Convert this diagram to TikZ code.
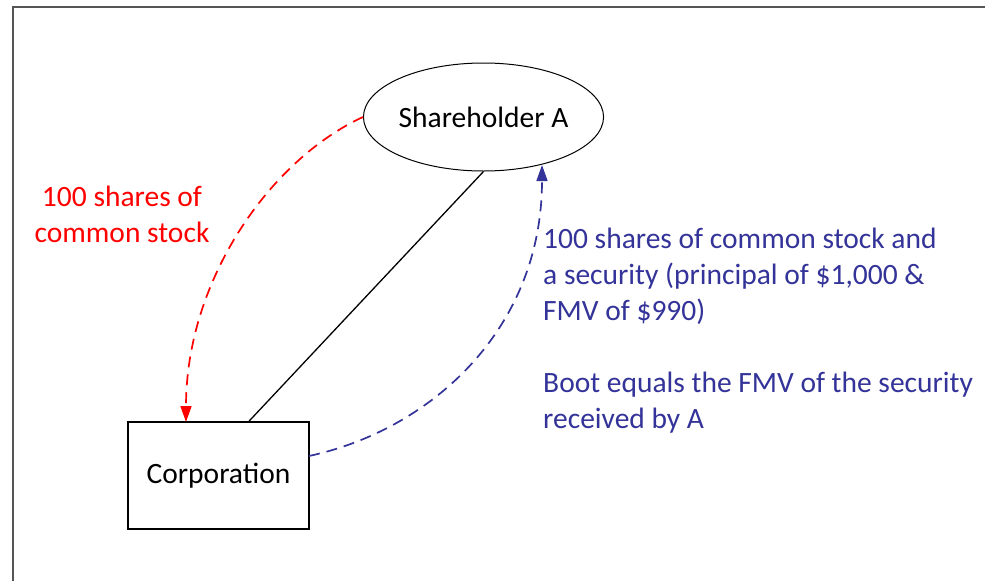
\documentclass[tikz,border=0pt]{standalone}
\usepackage{fontspec}
\setmainfont{Carlito}
\usetikzlibrary{arrows.meta,shapes.geometric}
\definecolor{bootblue}{RGB}{51,51,153}
\definecolor{framegray}{RGB}{85,85,85}
\begin{document}
\begin{tikzpicture}[x=1pt,y=-1pt,
	every node/.style={font=\fontsize{29.5}{36}\selectfont},
	tip/.style={-{Triangle[length=16pt,width=11pt]}},
	flow/.style={line width=1.7pt,dash pattern=on 11pt off 7pt}]
\useasboundingbox (0,0) rectangle (985,581);
\draw[framegray,line width=2pt] (13,581)--(13,7)--(985,7);
\node[draw,ellipse,line width=1pt,minimum width=237,minimum height=108,inner sep=0pt]
	(holder) at (483.5,117) {Shareholder A};
\node[draw,line width=1.6pt,minimum width=181,minimum height=107,inner sep=0pt]
	(corp) at (218.5,475.5) {Corporation};
\coordinate (redend) at (186,422);
\coordinate (bluestart) at (309,456);
\coordinate (blueend) at (542,165);
\draw[line width=1.3pt] (holder.south)--(corp.north-|249,0);
\begin{scope}[flow,tip]
\draw[red] (holder.west)..controls (270,160) and (186,280)..(redend);
\draw[bootblue] (bluestart)..controls (430,430) and (542,330)..(blueend);
\end{scope}
\node[red,align=center,anchor=base,inner sep=0pt] (stocklbl) at (122,242)
	{100 shares of\\common stock};
\node[bootblue,align=left,anchor=base west,inner sep=0pt] (securitylbl) at (543,320)
	{100 shares of common stock and\\a security (principal of \$1,000 \&\\FMV of \$990)};
\node[bootblue,align=left,anchor=base west,inner sep=0pt] (bootlbl) at (543,428)
	{Boot equals the FMV of the security\\received by A};
\end{tikzpicture}
\end{document}
